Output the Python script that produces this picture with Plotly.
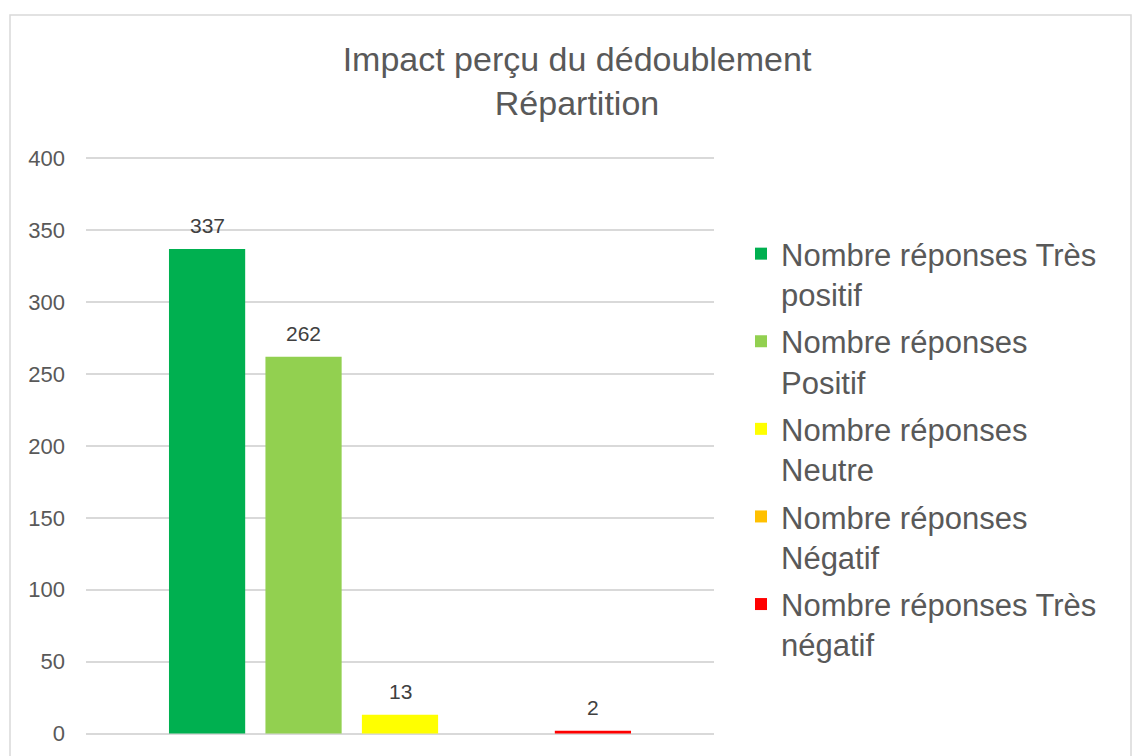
import plotly.graph_objects as go

categories = ["Répartition"]
series_names = [
    "Nombre réponses Très<br>positif",
    "Nombre réponses<br>Positif",
    "Nombre réponses<br>Neutre",
    "Nombre réponses<br>Négatif",
    "Nombre réponses Très<br>négatif",
]
series_values = [337, 262, 13, None, 2]
series_colors = ["#00B050", "#92D050", "#FFFF00", "#FFC000", "#FF0000"]
y_ticks = [0, 50, 100, 150, 200, 250, 300, 350, 400]

W, H = 1132, 756
L, R, T, B = 86, W - 714, 157, H - 735
FONT = "Liberation Sans, Arial, sans-serif"
BARGAP = 0.232
N = len(series_values)

fig = go.Figure()
for i, (name, val, col) in enumerate(zip(series_names, series_values, series_colors)):
    fig.add_trace(go.Bar(
        x=categories, y=[val], name=name, legendgroup=f"g{i}",
        marker=dict(color=col, line=dict(width=0)),
    ))

# value labels, placed above each grouped bar using the axis scale
slot = (1 - BARGAP) / N
annotations = []
for i, val in enumerate(series_values):
    if val is None:
        continue
    annotations.append(dict(
        x=(i - (N - 1) / 2) * slot, y=val, xref="x", yref="y",
        text=str(val), showarrow=False, yanchor="bottom", yshift=10,
        font=dict(family=FONT, size=21, color="#404040"),
    ))

pw, ph = W - L - R, H - T - B
def px(x):
    return (x - L) / pw
def py(y):
    return (H - B - y) / ph

fig.update_layout(
    width=W, height=H,
    margin=dict(l=L, r=R, t=T, b=B, autoexpand=False),
    paper_bgcolor="white", plot_bgcolor="white",
    barmode="group", bargap=BARGAP, bargroupgap=0.21,
    font=dict(family=FONT, color="#595959"),
    title=dict(
        text="Impact perçu du dédoublement<br>Répartition",
        x=px(577), xref="paper", xanchor="center",
        y=1 - 70.5 / H, yref="container", yanchor="middle",
        font=dict(family=FONT, size=34, color="#595959"),
    ),
    xaxis=dict(showticklabels=False, showgrid=False, zeroline=False,
               showline=False, ticks=""),
    yaxis=dict(range=[-1, 401], tickvals=y_ticks, showgrid=True,
               gridcolor="#d9d9d9", gridwidth=1.5, zeroline=False,
               showline=False, ticks="", ticklabelstandoff=20,
               tickfont=dict(family=FONT, size=22, color="#595959")),
    legend=dict(
        x=px(741), xanchor="left", y=py(227), yanchor="top",
        font=dict(family=FONT, size=31, color="#595959"),
        itemwidth=30, tracegroupgap=4, valign="top",
        bgcolor="rgba(0,0,0,0)",
    ),
    annotations=annotations,
    shapes=[dict(type="rect", xref="paper", yref="paper",
                 x0=px(10), x1=px(1131), y0=py(800), y1=py(15),
                 line=dict(color="#d9d9d9", width=1.5), layer="below")],
)

fig.write_html("out.html", config={"displayModeBar": False},
               post_script="document.body.style.margin='0';")
